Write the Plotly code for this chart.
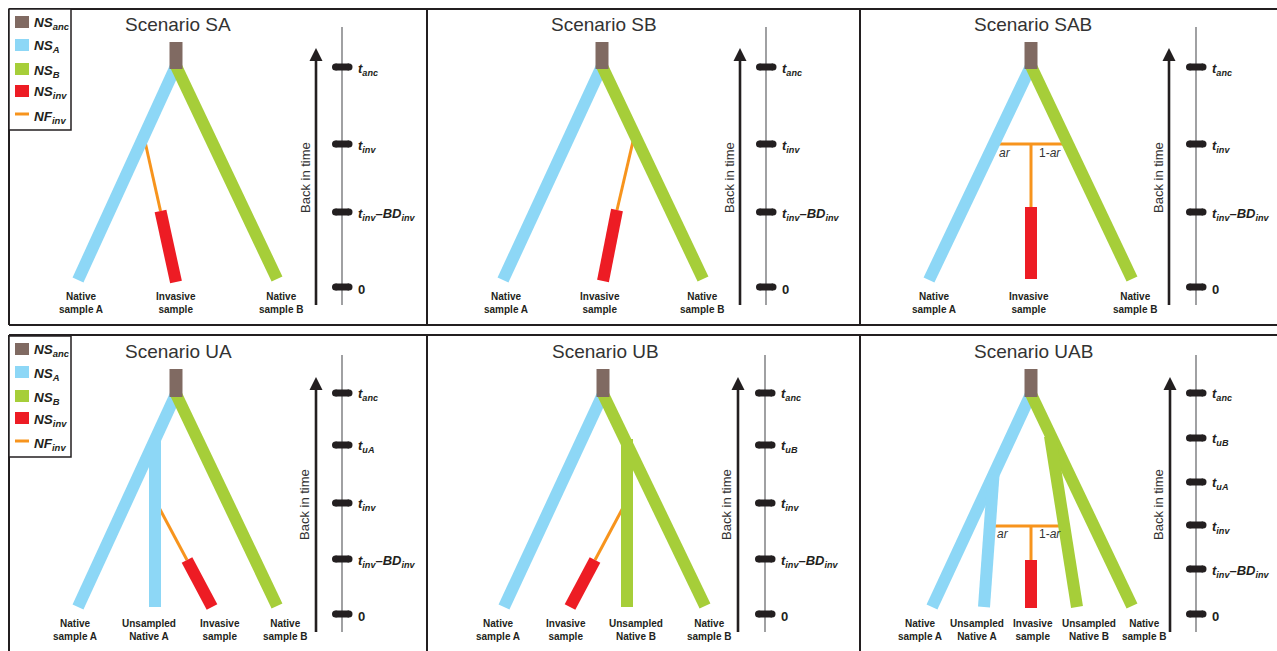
import plotly.graph_objects as go

W, H = 1277, 651
OFF = 0  # body margin is removed in the page (post_script), so figure px == screen px
FONT = "Liberation Sans, Arial, Helvetica, sans-serif"
INK = "#231F20"
COL = {"anc": "#806A62", "A": "#8DD7F6", "B": "#A6CE39", "inv": "#ED1C24", "NF": "#F7941D"}

# ---------------- data ----------------
titles = ["Scenario SA", "Scenario SB", "Scenario SAB", "Scenario UA", "Scenario UB", "Scenario UAB"]

# time-axis ticks (time units, 0 = present)
SA_ticks = [220, 143, 75, 0]
SB_ticks = [220, 143, 75, 0]
SAB_ticks = [220, 143, 75, 0]
UA_ticks = [221, 169, 111, 55, 0]
UB_ticks = [221, 169, 111, 55, 0]
UAB_ticks = [221, 176, 132, 89, 45, 0]
S_tick_text = ["t|anc", "t|inv", "BD", "0"]
UA_tick_text = ["t|anc", "t|uA", "t|inv", "BD", "0"]
UB_tick_text = ["t|anc", "t|uB", "t|inv", "BD", "0"]
UAB_tick_text = ["t|anc", "t|uB", "t|uA", "t|inv", "BD", "0"]

# ancestral population box: x, bottom time, top time
SA_root = [168, 218, 245]
SB_root = [175, 218, 245]
SAB_root = [171, 218, 245]
UA_root = [168, 217, 245]
UB_root = [176, 217, 245]
UAB_root = [171, 217, 245]

# branches: (population, x_old, t_old, x_recent, t_recent)
SA_branches = [("NF", 136, 150, 152.5, 76), ("A", 168, 221, 70, 7), ("B", 168, 221, 269, 8),
               ("inv", 152.5, 76, 168, 5)]
SB_branches = [("NF", 207, 150, 190, 77), ("A", 175, 221, 76, 7), ("B", 175, 221, 276, 8),
               ("inv", 190, 77, 176, 6)]
SAB_branches = [("NF", 134, 143, 207, 143), ("NF", 171, 143, 171, 80), ("A", 171, 221, 69, 7),
                ("B", 171, 221, 272, 8), ("inv", 171, 80, 171, 8)]
UA_branches = [("NF", 147, 114, 179, 54), ("A", 168, 220, 70, 7), ("A", 147, 175, 147, 7),
               ("B", 168, 220, 269, 8), ("inv", 179, 54, 204, 7)]
UB_branches = [("NF", 199, 112, 168, 54), ("A", 176, 220, 77, 7), ("B", 176, 220, 278, 8),
               ("B", 200, 175, 200, 7), ("inv", 168, 54, 143, 7)]
UAB_branches = [("NF", 131, 88, 205, 88), ("NF", 171, 88, 171, 54), ("A", 171, 220, 72, 7),
                ("A", 133.5, 139, 124, 7), ("B", 171, 220, 272, 8), ("B", 190, 178, 217, 7),
                ("inv", 171, 54, 171, 6)]

# sample labels
SA_leaf_x = [73, 168, 273]
SB_leaf_x = [79, 173, 275]
SAB_leaf_x = [74, 169, 275]
UA_leaf_x = [67, 141, 212, 277]
UB_leaf_x = [71, 139, 209, 282]
UAB_leaf_x = [60, 117, 173, 229, 284]
S_leaf_text = ["Native<br>sample A", "Invasive<br>sample", "Native<br>sample B"]
UA_leaf_text = ["Native<br>sample A", "Unsampled<br>Native A", "Invasive<br>sample", "Native<br>sample B"]
UB_leaf_text = ["Native<br>sample A", "Invasive<br>sample", "Unsampled<br>Native B", "Native<br>sample B"]
UAB_leaf_text = ["Native<br>sample A", "Unsampled<br>Native A", "Invasive<br>sample",
                 "Unsampled<br>Native B", "Native<br>sample B"]

# admixture labels (x, t) for ar / 1-ar
SAB_admix = [(145, 134), (190, 134)]
UAB_admix = [(143, 80), (190, 80)]

legend_keys = ["anc", "A", "B", "inv", "NF"]
legend_text = ["NS|anc", "NS|A", "NS|B", "NS|inv", "NF|inv"]

# ---------------- layout of panels ----------------
panel_left = [8, 427, 860, 8, 427, 860]
panel_right = [427, 860, 1277, 427, 860, 1277]
panel_top = [8, 8, 8, 335, 335, 335]
panel_bottom = [325, 325, 325, 651, 651, 651]
zero_row = [287, 287, 287, 614, 614, 614]
arrow_x = [308, 313, 309, 308, 311, 310]
axis_x = [334, 339, 336, 334, 338, 336]

ticks = [SA_ticks, SB_ticks, SAB_ticks, UA_ticks, UB_ticks, UAB_ticks]
tick_texts = [S_tick_text, S_tick_text, S_tick_text, UA_tick_text, UB_tick_text, UAB_tick_text]
roots = [SA_root, SB_root, SAB_root, UA_root, UB_root, UAB_root]
branches = [SA_branches, SB_branches, SAB_branches, UA_branches, UB_branches, UAB_branches]
leaf_xs = [SA_leaf_x, SB_leaf_x, SAB_leaf_x, UA_leaf_x, UB_leaf_x, UAB_leaf_x]
leaf_texts = [S_leaf_text, S_leaf_text, S_leaf_text, UA_leaf_text, UB_leaf_text, UAB_leaf_text]
admix = [None, None, SAB_admix, None, None, UAB_admix]


def fmt_tick(s):
    if s == "0":
        return "<b>0</b>"
    if s == "BD":
        return "<b><i>t<sub>inv</sub>–BD<sub>inv</sub></i></b>"
    a, b = s.split("|")
    return f"<b><i>{a}<sub>{b}</sub></i></b>"


def fmt_leg(s):
    a, b = s.split("|")
    return f"<b><i>{a}<sub>{b}</sub></i></b>"


def px(x):
    return (x - OFF) / W


def py(y):
    return 1 - (y - OFF) / H


fig = go.Figure()
annotations = []
shapes = []

for i in range(6):
    sfx = "" if i == 0 else str(i + 1)
    xr, yr = f"x{sfx}", f"y{sfx}"
    L, R, T, B, Z = panel_left[i], panel_right[i], panel_top[i], panel_bottom[i], zero_row[i]
    fig.layout[f"xaxis{sfx}"] = dict(domain=[px(L), px(R)], range=[0, R - L], visible=False,
                                     fixedrange=True, anchor=yr)
    fig.layout[f"yaxis{sfx}"] = dict(domain=[py(B), py(T)], range=[Z - B, Z - T], visible=False,
                                     fixedrange=True, anchor=xr)

    def seg(xs, ys, color, width):
        fig.add_trace(go.Scatter(x=xs, y=ys, mode="lines", line=dict(color=color, width=width),
                                 hoverinfo="skip", showlegend=False, xaxis=xr, yaxis=yr))

    # branches
    for pop, xa, ta, xb, tb in branches[i]:
        seg([xa, xb], [ta, tb], COL[pop], 3 if pop == "NF" else 12)
    rx, rb, rt = roots[i]
    seg([rx, rx], [rb, rt], COL["anc"], 13)

    # time axis
    ax_x = axis_x[i]
    seg([ax_x, ax_x], [-18, Z - T - 19 - (1 if i >= 3 else 0)], "#6D6E71", 1.3)
    for tv in ticks[i]:
        fig.add_trace(go.Scatter(x=[ax_x - 6.5, ax_x + 7], y=[tv, tv], mode="lines+markers",
                                 line=dict(color=INK, width=7),
                                 marker=dict(color=INK, size=7, line=dict(width=0)),
                                 hoverinfo="skip", showlegend=False, xaxis=xr, yaxis=yr))
    for tv, tt in zip(ticks[i], tick_texts[i]):
        annotations.append(dict(x=ax_x + 13.5, y=tv - 2, xref=xr, yref=yr, text=fmt_tick(tt),
                                showarrow=False, xanchor="left", yanchor="middle",
                                font=dict(family=FONT, size=13, color=INK)))
    # back-in-time arrow
    tip = 239 if i < 3 else 237
    seg([arrow_x[i], arrow_x[i]], [-18, tip - 8], INK, 2.6)
    fig.add_trace(go.Scatter(x=[arrow_x[i]], y=[tip], mode="markers",
                             marker=dict(symbol="arrow-up", size=13, color=INK, line=dict(width=0)),
                             hoverinfo="skip", showlegend=False, xaxis=xr, yaxis=yr))
    annotations.append(dict(x=arrow_x[i] - 11, y=109, xref=xr, yref=yr, text="Back in time",
                            textangle=-90, showarrow=False,
                            font=dict(family=FONT, size=13, color="#333333")))
    # title
    annotations.append(dict(x=rx + 2, y=Z - T - 16 - (1 if i >= 3 else 0), xref=xr, yref=yr,
                            text=titles[i], showarrow=False,
                            font=dict(family=FONT, size=19, color="#333333")))
    # sample labels
    for lx, lt in zip(leaf_xs[i], leaf_texts[i]):
        annotations.append(dict(x=lx, y=-16, xref=xr, yref=yr, text=f"<b>{lt}</b>", showarrow=False,
                                font=dict(family=FONT, size=10, color=INK)))
    if admix[i]:
        (ax1, at1), (ax2, at2) = admix[i]
        annotations.append(dict(x=ax1, y=at1, xref=xr, yref=yr, text="<i>ar</i>", showarrow=False,
                                font=dict(family=FONT, size=12, color="#333333")))
        annotations.append(dict(x=ax2, y=at2, xref=xr, yref=yr, text="1-<i>ar</i>", showarrow=False,
                                font=dict(family=FONT, size=12, color="#333333")))

# panel frames
frame = dict(color=INK, width=2)
for yy in [9, 325, 335]:
    shapes.append(dict(type="line", xref="paper", yref="paper", x0=px(9), x1=1, y0=py(yy), y1=py(yy), line=frame))
for xx in [9, 427, 860]:
    shapes.append(dict(type="line", xref="paper", yref="paper", x0=px(xx), x1=px(xx), y0=py(9), y1=py(325), line=frame))
    shapes.append(dict(type="line", xref="paper", yref="paper", x0=px(xx), x1=px(xx), y0=py(335), y1=0, line=frame))

# legend boxes
sw_top = [16, 39, 63, 85]
txt_y = [21, 45, 69, 91, 115]
for top in [0, 327]:
    shapes.append(dict(type="rect", xref="paper", yref="paper", x0=px(9), x1=px(71), y0=py(9 + top),
                       y1=py(130 + top), line=dict(color=INK, width=1.5), fillcolor="white", layer="above"))
    for k, st in zip(legend_keys[:4], sw_top):
        shapes.append(dict(type="rect", xref="paper", yref="paper", x0=px(15), x1=px(29), y0=py(st + top),
                           y1=py(st + 12 + top), line=dict(width=0), fillcolor=COL[k], layer="above"))
    shapes.append(dict(type="line", xref="paper", yref="paper", x0=px(15), x1=px(29), y0=py(114 + top),
                       y1=py(114 + top), line=dict(color=COL["NF"], width=3), layer="above"))
    for lt, ty in zip(legend_text, txt_y):
        annotations.append(dict(x=px(32), y=py(ty + top + 2), xref="paper", yref="paper", text=fmt_leg(lt),
                                showarrow=False, xanchor="left", yanchor="middle",
                                font=dict(family=FONT, size=13.5, color=INK)))

fig.update_layout(width=W, height=H, margin=dict(l=0, r=0, t=0, b=0), paper_bgcolor="white",
                  plot_bgcolor="rgba(0,0,0,0)", showlegend=False, annotations=annotations, shapes=shapes)
fig.write_html("out.html", config={"displayModeBar": False},
               post_script="document.body.style.margin='0';"
                           "document.documentElement.style.overflow='hidden';"
                           "document.body.style.overflow='hidden';")
